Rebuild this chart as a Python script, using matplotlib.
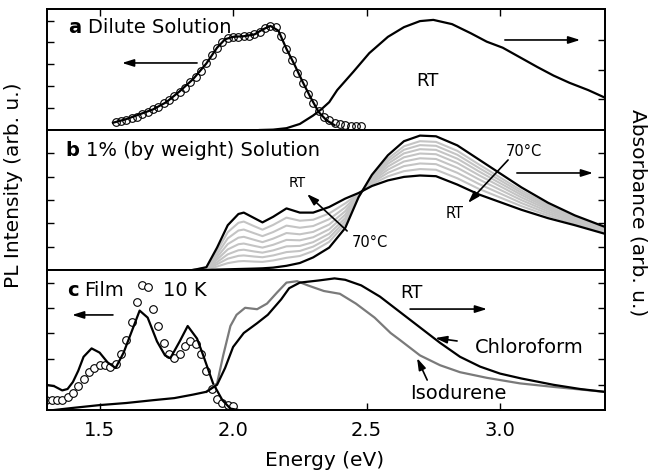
import numpy as np
import matplotlib.pyplot as plt

####### ================================================================
####### ------- Data (arb. units, 0..1 per panel) --
####### ================================================================

## ---- panel a : dilute solution -----------------------------------
a_pl_E = [1.55, 1.60, 1.65, 1.70, 1.75, 1.80, 1.85, 1.90, 1.94, 1.97, 2.00, 2.04,
          2.08, 2.11, 2.14, 2.17, 2.20, 2.23, 2.26, 2.29, 2.32, 2.35, 2.38]
a_pl_I = [0.06, 0.09, 0.13, 0.17, 0.23, 0.32, 0.42, 0.55, 0.68, 0.75, 0.77, 0.775,
          0.79, 0.83, 0.86, 0.82, 0.67, 0.54, 0.40, 0.27, 0.15, 0.08, 0.04]

a_dot_E = [1.56, 1.58, 1.60, 1.62, 1.64, 1.66, 1.68, 1.70, 1.72, 1.74, 1.76, 1.78,
           1.80, 1.82, 1.84, 1.86, 1.88, 1.90, 1.92, 1.94, 1.96, 1.98, 2.00, 2.02,
           2.04, 2.06, 2.08, 2.10, 2.12, 2.14, 2.16, 2.18, 2.20, 2.22, 2.24, 2.26,
           2.28, 2.30, 2.32, 2.34, 2.36, 2.38, 2.40, 2.42, 2.44, 2.46, 2.48]
a_dot_I = [0.07, 0.075, 0.085, 0.10, 0.11, 0.13, 0.15, 0.17, 0.19, 0.22, 0.25, 0.28,
           0.31, 0.35, 0.40, 0.44, 0.49, 0.55, 0.62, 0.68, 0.73, 0.76, 0.77, 0.77,
           0.78, 0.78, 0.79, 0.81, 0.84, 0.86, 0.85, 0.78, 0.67, 0.58, 0.47, 0.39,
           0.30, 0.22, 0.16, 0.11, 0.08, 0.06, 0.05, 0.04, 0.035, 0.03, 0.03]

a_abs_E = [2.10, 2.15, 2.20, 2.25, 2.30, 2.33, 2.36, 2.39, 2.45, 2.51, 2.58, 2.64,
           2.70, 2.75, 2.82, 2.89, 2.95, 3.01, 3.075, 3.14, 3.20, 3.26, 3.33, 3.39]
a_abs_A = [0.0, 0.003, 0.015, 0.05, 0.12, 0.17, 0.23, 0.33, 0.48, 0.635, 0.77, 0.85,
           0.90, 0.91, 0.875, 0.80, 0.73, 0.68, 0.60, 0.52, 0.45, 0.39, 0.33, 0.27]

## ---- panel b : 1% solution, RT -> 70 C ---------------------------
b_E = [1.85, 1.90, 1.94, 1.98, 2.02, 2.04, 2.08, 2.11, 2.15, 2.20, 2.25, 2.30, 2.36, 2.42,
       2.47, 2.52, 2.58, 2.64, 2.70, 2.76, 2.84, 2.92, 3.00, 3.08, 3.18, 3.28, 3.39]
b_RT = [0.0, 0.02, 0.16, 0.32, 0.40, 0.41, 0.37, 0.34, 0.38, 0.44, 0.41, 0.41, 0.45, 0.51,
        0.55, 0.60, 0.64, 0.665, 0.675, 0.67, 0.61, 0.54, 0.485, 0.43, 0.37, 0.32, 0.26]
b_70C = [0.0, 0.0, 0.003, 0.005, 0.007, 0.008, 0.01, 0.012, 0.017, 0.03, 0.05, 0.09, 0.16, 0.30,
         0.52, 0.68, 0.82, 0.92, 0.96, 0.955, 0.89, 0.79, 0.69, 0.59, 0.48, 0.39, 0.31]
b_T1 = [0.0, 0.017, 0.135, 0.270, 0.337, 0.346, 0.312, 0.288, 0.322, 0.374, 0.352, 0.359, 0.404, 0.476,
        0.545, 0.613, 0.669, 0.706, 0.721, 0.716, 0.655, 0.580, 0.518, 0.456, 0.388, 0.331, 0.268]
b_T2 = [0.0, 0.014, 0.113, 0.226, 0.282, 0.289, 0.262, 0.242, 0.271, 0.317, 0.302, 0.314, 0.363, 0.447,
        0.541, 0.624, 0.694, 0.742, 0.761, 0.756, 0.694, 0.615, 0.547, 0.478, 0.403, 0.341, 0.275]
b_T3 = [0.0, 0.011, 0.092, 0.185, 0.231, 0.237, 0.215, 0.199, 0.224, 0.264, 0.255, 0.272, 0.325, 0.420,
        0.537, 0.634, 0.717, 0.775, 0.798, 0.793, 0.730, 0.648, 0.573, 0.499, 0.417, 0.350, 0.282]
b_T4 = [0.0, 0.009, 0.074, 0.147, 0.184, 0.189, 0.172, 0.160, 0.180, 0.215, 0.212, 0.234, 0.291, 0.395,
        0.534, 0.644, 0.739, 0.805, 0.832, 0.827, 0.764, 0.678, 0.598, 0.518, 0.431, 0.359, 0.288]
b_T5 = [0.0, 0.007, 0.056, 0.112, 0.141, 0.145, 0.132, 0.124, 0.140, 0.169, 0.172, 0.199, 0.259, 0.371,
        0.530, 0.653, 0.759, 0.833, 0.863, 0.858, 0.795, 0.705, 0.620, 0.536, 0.443, 0.366, 0.293]
b_T6 = [0.0, 0.005, 0.041, 0.081, 0.101, 0.104, 0.096, 0.091, 0.104, 0.128, 0.136, 0.167, 0.230, 0.350,
        0.527, 0.661, 0.777, 0.859, 0.892, 0.887, 0.823, 0.730, 0.641, 0.552, 0.454, 0.373, 0.298]
b_T7 = [0.0, 0.003, 0.025, 0.049, 0.062, 0.064, 0.060, 0.058, 0.068, 0.087, 0.100, 0.135, 0.201, 0.329,
        0.524, 0.669, 0.795, 0.884, 0.920, 0.915, 0.851, 0.755, 0.661, 0.568, 0.465, 0.380, 0.303]
b_grey = [b_T1, b_T2, b_T3, b_T4, b_T5, b_T6, b_T7]

## ---- panel c : film 10 K + RT absorbance --------------------------
c_pl_E = [1.30, 1.33, 1.36, 1.38, 1.40, 1.42, 1.44, 1.47, 1.50, 1.53, 1.56, 1.59, 1.62,
          1.65, 1.68, 1.715, 1.745, 1.765, 1.80, 1.83, 1.865, 1.89, 1.925, 1.96, 1.99, 2.02]
c_pl_I = [0.18, 0.17, 0.14, 0.15, 0.20, 0.28, 0.38, 0.44, 0.41, 0.34, 0.30, 0.41, 0.56,
          0.71, 0.66, 0.49, 0.39, 0.37, 0.49, 0.60, 0.51, 0.38, 0.19, 0.07, 0.01, 0.0]

c_dot_E = [1.30, 1.32, 1.34, 1.36, 1.38, 1.40, 1.42, 1.44, 1.46, 1.48, 1.50, 1.52, 1.54,
           1.56, 1.58, 1.60, 1.62, 1.64, 1.66, 1.68, 1.70, 1.72, 1.74, 1.76, 1.78, 1.80,
           1.82, 1.84, 1.86, 1.88, 1.90, 1.92, 1.94, 1.96, 1.98, 2.00]
c_dot_I = [0.07, 0.07, 0.07, 0.075, 0.09, 0.12, 0.17, 0.22, 0.27, 0.30, 0.32, 0.32, 0.31,
           0.33, 0.40, 0.50, 0.63, 0.77, 0.89, 0.88, 0.72, 0.60, 0.48, 0.40, 0.37, 0.40,
           0.46, 0.49, 0.47, 0.40, 0.28, 0.15, 0.08, 0.05, 0.035, 0.03]

c_chl_E = [1.33, 1.40, 1.50, 1.60, 1.70, 1.78, 1.85, 1.90, 1.94, 1.97, 2.00, 2.04, 2.09,
           2.13, 2.18, 2.21, 2.25, 2.32, 2.38, 2.42, 2.48, 2.55, 2.625, 2.70, 2.775, 2.85,
           2.925, 3.00, 3.08, 3.20, 3.30, 3.39]
c_chl_A = [0.0, 0.015, 0.035, 0.05, 0.07, 0.085, 0.11, 0.13, 0.18, 0.30, 0.45, 0.55, 0.62,
           0.68, 0.79, 0.87, 0.91, 0.925, 0.94, 0.93, 0.89, 0.81, 0.70, 0.59, 0.48, 0.38,
           0.31, 0.26, 0.225, 0.18, 0.15, 0.13]

c_iso_E = [1.90, 1.94, 1.963, 1.99, 2.013, 2.045, 2.09, 2.127, 2.165, 2.20, 2.24, 2.28,
           2.34, 2.40, 2.46, 2.53, 2.59, 2.625, 2.70, 2.775, 2.85, 2.95, 3.075, 3.20, 3.39]
c_iso_A = [0.13, 0.19, 0.39, 0.60, 0.68, 0.73, 0.72, 0.76, 0.84, 0.91, 0.92, 0.89,
           0.85, 0.83, 0.76, 0.66, 0.55, 0.50, 0.39, 0.32, 0.27, 0.23, 0.19, 0.165, 0.13]

## x ticks
x_ticks = [1.5, 2.0, 2.5, 3.0]
x_ticklabels = ['1.5', '2.0', '2.5', '3.0']

####### ================================================================
####### ------- Figure layout (pixel based) ----------------------------
####### ================================================================
W, H = 652, 473
fig = plt.figure(figsize=(W/100, H/100), dpi=100)
plt.rcParams['font.family'] = 'DejaVu Sans'

left, right = 47, 605
panels_px = [(9, 130), (130, 270), (270, 410)]     ## (top, bottom) pixel rows
xlim = (1.303, 3.393)

def make_axes(top, bot):
    ax = fig.add_axes([left/W, 1-bot/H, (right-left)/W, (bot-top)/H])
    ax.set_xlim(*xlim)
    ax.set_ylim(0, 1)
    ax2 = ax.twinx()
    ax2.set_ylim(0, 1)
    for a in (ax, ax2):
        for s in a.spines.values():
            s.set_linewidth(1.3)
        a.tick_params(direction='in', length=5, width=1.0)
    ax.tick_params(labelleft=False)
    ax2.tick_params(labelright=False)
    return ax, ax2

axA, axA2 = make_axes(*panels_px[0])
axB, axB2 = make_axes(*panels_px[1])
axC, axC2 = make_axes(*panels_px[2])

## --- tick positions (arbitrary units, no labels) -------------------
axA.set_yticks([0.182, 0.364, 0.545, 0.727, 0.90])
axA2.set_yticks([0.256, 0.496, 0.744])
axB.set_yticks([0.164, 0.336, 0.50, 0.664, 0.836])
axB2.set_yticks([0.164, 0.336, 0.50, 0.664, 0.836])
axC.set_yticks([0.179, 0.364, 0.55, 0.729, 0.907])
axC2.set_yticks([0.179, 0.364, 0.55, 0.729, 0.907])

axA.set_xticks(x_ticks)
axA.tick_params(axis='x', top=True, bottom=False, labelbottom=False)
axB.set_xticks([])
axC.set_xticks(x_ticks)
axC.set_xticklabels(x_ticklabels, fontsize=14)
axC.tick_params(axis='x', pad=8)

lw = 1.6
arrow_kw = dict(arrowstyle='-|>,head_length=0.7,head_width=0.22', color='k', lw=1.2,
                shrinkA=0, shrinkB=0)

### -------- panel a ------------------------------------------------
axA.plot(a_dot_E, a_dot_I, 'o', ms=5.5, mfc='none', mec='k', mew=0.8)
axA.plot(a_pl_E, a_pl_I, color='k', lw=lw)
axA2.plot(a_abs_E, a_abs_A, color='k', lw=lw)
axA.text(1.382, 0.843, 'a', fontsize=14, fontweight='bold', va='center')
axA.text(1.455, 0.843, 'Dilute Solution', fontsize=14, va='center')
axA.text(2.727, 0.405, 'RT', fontsize=13, ha='center', va='center')
axA.annotate('', xy=(1.584, 0.554), xytext=(1.865, 0.554), arrowprops=arrow_kw)
axA.annotate('', xy=(3.30, 0.744), xytext=(3.018, 0.744), arrowprops=arrow_kw)

### -------- panel b ------------------------------------------------
for g in b_grey:
    axB.plot(b_E, g, color='#c4c4c4', lw=1.5, zorder=2)
axB.plot(b_E, b_70C, color='k', lw=lw, zorder=3)
axB.plot(b_E, b_RT, color='k', lw=lw, zorder=3)
axB.text(1.371, 0.857, 'b', fontsize=14, fontweight='bold', va='center')
axB.text(1.448, 0.857, '1% (by weight) Solution', fontsize=14, va='center')
axB.text(2.24, 0.62, 'RT', fontsize=10, ha='center', va='center')
axB.text(2.513, 0.193, '70°C', fontsize=10.5, ha='center', va='center')
axB.annotate('', xy=(2.277, 0.543), xytext=(2.427, 0.279), arrowprops=arrow_kw)
axB.text(3.09, 0.85, '70°C', fontsize=10.5, ha='center', va='center')
axB.text(2.828, 0.407, 'RT', fontsize=10.5, ha='center', va='center')
axB.annotate('', xy=(2.88, 0.479), xytext=(3.03, 0.786), arrowprops=arrow_kw)
axB.annotate('', xy=(3.348, 0.693), xytext=(3.063, 0.693), arrowprops=arrow_kw)

### -------- panel c ------------------------------------------------
axC.plot(c_dot_E, c_dot_I, 'o', ms=5.5, mfc='white', mec='k', mew=0.8, zorder=2)
axC.plot(c_pl_E, c_pl_I, color='k', lw=lw, zorder=3)
axC2.plot(c_iso_E, c_iso_A, color='#7a7a7a', lw=lw, zorder=2)
axC2.plot(c_chl_E, c_chl_A, color='k', lw=lw, zorder=3)
axC.text(1.378, 0.857, 'c', fontsize=14, fontweight='bold', va='center', zorder=5)
axC.text(1.442, 0.857, 'Film', fontsize=14, va='center', zorder=5)
axC.text(1.738, 0.857, '10 K', fontsize=14, va='center', zorder=5)
axC.annotate('', xy=(1.397, 0.679), xytext=(1.55, 0.679), arrowprops=arrow_kw)
axC2.text(2.667, 0.836, 'RT', fontsize=13, ha='center', va='center')
axC2.annotate('', xy=(2.951, 0.721), xytext=(2.663, 0.721), arrowprops=arrow_kw)
axC2.text(2.906, 0.45, 'Chloroform', fontsize=14, va='center')
axC2.annotate('', xy=(2.757, 0.514), xytext=(2.839, 0.493), arrowprops=arrow_kw)
axC2.text(2.663, 0.12, 'Isodurene', fontsize=14, va='center')
axC2.annotate('', xy=(2.689, 0.371), xytext=(2.727, 0.214), arrowprops=arrow_kw)

### -------- axis labels --------------------------------------------
fig.text(325/W, 1-460/H, 'Energy (eV)', fontsize=14.5, ha='center', va='center')
fig.text(14/W, 1-185/H, 'PL Intensity (arb. u.)', fontsize=14.5, rotation=90,
         ha='center', va='center')
fig.text(638/W, 1-213/H, 'Absorbance (arb. u.)', fontsize=14.5, rotation=270,
         ha='center', va='center')

plt.savefig('out.png', dpi=100)
